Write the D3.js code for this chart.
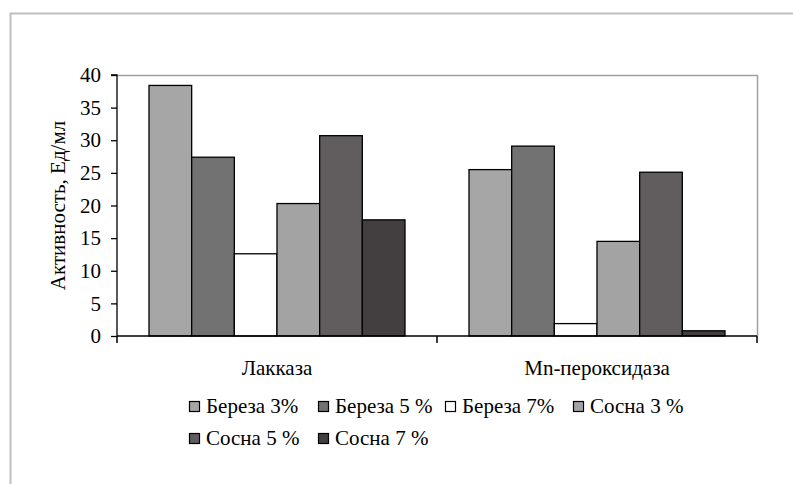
<!DOCTYPE html>
<html><head><meta charset="utf-8">
<script src="https://cdn.jsdelivr.net/npm/d3@7"></script>
<style>
html,body{margin:0;padding:0;background:#fff;}
</style></head>
<body><svg id="c" width="793" height="484"></svg>
<script>
const categories = ["Лакказа", "Mn-пероксидаза"];
const seriesNames = ["Береза 3%", "Береза 5 %", "Береза 7%", "Сосна 3 %", "Сосна 5 %", "Сосна 7 %"];
const seriesColors = ["#a6a6a6", "#727272", "#ffffff", "#a3a3a3", "#615d5e", "#433e3f"];
const valuesLaccase = [38.4, 27.4, 12.6, 20.3, 30.7, 17.8];
const valuesMnP = [25.5, 29.1, 1.9, 14.5, 25.1, 0.8];
const yTicks = [0, 5, 10, 15, 20, 25, 30, 35, 40];
const yTitle = "Активность, Ед/мл";

const FONT = "'Liberation Serif', 'Times New Roman', Tinos, 'DejaVu Serif', serif";
const values = [valuesLaccase, valuesMnP];
const svg = d3.select("#c");

// outer chart border
svg.append("path").attr("d", "M10.5,484 V13.5 H793")
  .attr("fill", "none").attr("stroke", "#bfbfbf").attr("stroke-width", 2);

const L = 117, R = 757, T = 75, B = 336;
const x0 = d3.scaleBand().domain(categories).range([L, R]).padding(0);
const x1 = d3.scaleBand().domain(seriesNames).range([0, x0.bandwidth()]).paddingInner(0).paddingOuter(0.75);
const y = d3.scaleLinear().domain([0, 40]).range([B, T]);

// plot frame (top & right, gray)
svg.append("path").attr("d", `M${L},${T+0.5} H${R+0.5} V${B}`)
  .attr("fill", "none").attr("stroke", "#a0a0a0").attr("stroke-width", 1.5);

// bars
categories.forEach((c, ci) => {
  svg.append("g").selectAll("rect").data(values[ci]).join("rect")
    .attr("x", (d, i) => x0(c) + x1(seriesNames[i]))
    .attr("y", d => y(d))
    .attr("width", x1.bandwidth())
    .attr("height", d => B - y(d))
    .attr("fill", (d, i) => seriesColors[i])
    .attr("stroke", "#000").attr("stroke-width", 1.3);
});

function styleText(sel) {
  sel.attr("font-family", null).style("font-family", FONT).style("font-size", "21px").attr("fill", "#000");
}

// y axis
const yAxis = svg.append("g").attr("transform", `translate(${L},0)`)
  .call(d3.axisLeft(y).tickValues(yTicks).tickSize(6).tickPadding(10).tickFormat(d3.format("d")));
yAxis.attr("font-family", null).attr("font-size", null);
yAxis.selectAll("path, line").attr("stroke", "#000").attr("stroke-width", 1.3);
styleText(yAxis.selectAll("text"));
yAxis.select(".domain").attr("d", `M-6,${T}H0V${B}`);

// x axis
const xAxis = svg.append("g").attr("transform", `translate(0,${B})`)
  .call(d3.axisBottom(x0).tickSize(0).tickPadding(24));
xAxis.attr("font-family", null).attr("font-size", null);
xAxis.select(".domain").attr("stroke", "#000").attr("stroke-width", 1.5).attr("d", `M${L},0H${R}`);
styleText(xAxis.selectAll("text"));
// category boundary ticks
const bounds = [L, ...categories.map(c => x0(c) + x0.bandwidth())];
svg.append("g").selectAll("line").data(bounds).join("line")
  .attr("x1", d => d).attr("x2", d => d).attr("y1", B).attr("y2", B + 7)
  .attr("stroke", "#000").attr("stroke-width", 1.5);

// y title
styleText(svg.append("text").attr("transform", `translate(65,${(T + B) / 2}) rotate(-90)`)
  .attr("text-anchor", "middle").text(yTitle));

// legend
const legendX = [189, 318, 445, 573];
const legendRowY = [401, 433];
const lg = svg.append("g");
seriesNames.forEach((s, i) => {
  const col = i < 4 ? i : i - 4, row = i < 4 ? 0 : 1;
  const gx = legendX[col], gy = legendRowY[row];
  lg.append("rect").attr("x", gx + 0.5).attr("y", gy + 0.5).attr("width", 10).attr("height", 10)
    .attr("fill", seriesColors[i]).attr("stroke", "#000").attr("stroke-width", 1.2);
  styleText(lg.append("text").attr("x", gx + 17).attr("y", gy + 11.5).text(s));
});
</script></body></html>
